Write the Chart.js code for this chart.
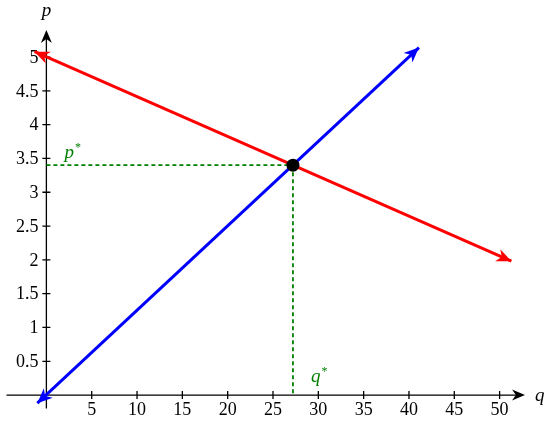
<!DOCTYPE html>
<html>
<head>
<meta charset="utf-8">
<script src="https://cdn.jsdelivr.net/npm/chart.js@4/dist/chart.umd.min.js"></script>
<style>
  html, body { margin: 0; padding: 0; background: #fff; }
  #wrap { width: 550px; height: 421px; position: relative; }
</style>
</head>
<body>
<div id="wrap"><canvas id="chart"></canvas></div>
<script>
// supply (blue) and demand (red) lines
const SUPPLY_Q = [-1.0, 41.1];
const SUPPLY_P = [-0.12, 5.14];
const DEMAND_Q = [-1.3, 51.3];
const DEMAND_P = [5.08, 1.98];

// equilibrium point
const EQ_Q = 27.2;
const EQ_P = 3.4;

const X_TICKS = [5, 10, 15, 20, 25, 30, 35, 40, 45, 50];
const Y_TICKS = [0.5, 1, 1.5, 2, 2.5, 3, 3.5, 4, 4.5, 5];

const X_RANGE = [-4.4, 52.8];
const Y_RANGE = [-0.2, 5.4];

const GREEN = "#008000";
const FONT = "Liberation Serif";

function font(style, size) {
  return `${style} ${size}px "${FONT}"`;
}

function pts(xs, ys) {
  return xs.map((x, i) => ({ x, y: ys[i] }));
}

// LaTeX-ish stealth arrow head with tip at (x, y), pointing along angle
function arrowHead(ctx, x, y, angle, color, len, half) {
  ctx.save();
  ctx.translate(x, y);
  ctx.rotate(angle);
  ctx.fillStyle = color;
  ctx.beginPath();
  ctx.moveTo(0, 0);
  ctx.lineTo(-len, -half);
  ctx.lineTo(-len * 0.7, 0);
  ctx.lineTo(-len, half);
  ctx.closePath();
  ctx.fill();
  ctx.restore();
}

function lineArrows(chart, xs, ys, color) {
  const sx = chart.scales.x, sy = chart.scales.y;
  const a = { x: sx.getPixelForValue(xs[0]), y: sy.getPixelForValue(ys[0]) };
  const b = { x: sx.getPixelForValue(xs[1]), y: sy.getPixelForValue(ys[1]) };
  const ang = Math.atan2(b.y - a.y, b.x - a.x);
  arrowHead(chart.ctx, b.x, b.y, ang, color, 15, 6.5);
  arrowHead(chart.ctx, a.x, a.y, ang + Math.PI, color, 15, 6.5);
}

const axesPlugin = {
  id: "axes",
  beforeDatasetsDraw(chart) {
    const ctx = chart.ctx;
    const sx = chart.scales.x, sy = chart.scales.y;
    const x0 = sx.getPixelForValue(0), y0 = sy.getPixelForValue(0);
    const left = sx.getPixelForValue(X_RANGE[0]), right = sx.getPixelForValue(X_RANGE[1]);
    const top = sy.getPixelForValue(Y_RANGE[1]), bottom = sy.getPixelForValue(Y_RANGE[0]);

    ctx.save();
    ctx.strokeStyle = "#000";
    ctx.lineWidth = 1.3;
    ctx.beginPath();
    ctx.moveTo(left, y0);
    ctx.lineTo(right - 8, y0);
    ctx.moveTo(x0, bottom);
    ctx.lineTo(x0, top + 8);
    ctx.stroke();
    arrowHead(ctx, right, y0, 0, "#000", 13, 5.5);
    arrowHead(ctx, x0, top, -Math.PI / 2, "#000", 13, 5.5);

    ctx.beginPath();
    X_TICKS.forEach((v) => {
      const px = sx.getPixelForValue(v);
      ctx.moveTo(px, y0 - 4);
      ctx.lineTo(px, y0 + 4);
    });
    Y_TICKS.forEach((v) => {
      const py = sy.getPixelForValue(v);
      ctx.moveTo(x0 - 4, py);
      ctx.lineTo(x0 + 4, py);
    });
    ctx.stroke();

    ctx.font = font("normal", 18);
    ctx.fillStyle = "#000";
    ctx.textAlign = "center";
    ctx.textBaseline = "top";
    X_TICKS.forEach((v) => ctx.fillText(String(v), sx.getPixelForValue(v), y0 + 6));
    ctx.textAlign = "right";
    ctx.textBaseline = "middle";
    Y_TICKS.forEach((v) => ctx.fillText(String(v), x0 - 8, sy.getPixelForValue(v) + 1));

    ctx.font = font("italic", 19);
    ctx.textAlign = "center";
    ctx.textBaseline = "alphabetic";
    ctx.fillText("p", x0, top - 14);
    ctx.textAlign = "left";
    ctx.textBaseline = "middle";
    ctx.fillText("q", right + 10, y0 + 1);
    ctx.restore();
  },
  afterDatasetsDraw(chart) {
    const ctx = chart.ctx;
    const sx = chart.scales.x, sy = chart.scales.y;
    lineArrows(chart, SUPPLY_Q, SUPPLY_P, "#0000ff");
    lineArrows(chart, DEMAND_Q, DEMAND_P, "#ff0000");

    ctx.save();
    ctx.fillStyle = GREEN;
    const star = (label, x, y) => {
      ctx.font = font("italic", 19);
      ctx.fillText(label, x, y);
      const w = ctx.measureText(label).width;
      ctx.font = font("normal", 12);
      ctx.fillText("*", x + w + 1, y - 7);
    };
    ctx.textBaseline = "alphabetic";
    star("p", sx.getPixelForValue(2), sy.getPixelForValue(3.4) - 7);
    star("q", sx.getPixelForValue(29.2), sy.getPixelForValue(0.2));
    ctx.restore();
  },
};

function draw() {
  // dataset 0 is painted last, so the dot goes first
  new Chart(document.getElementById("chart"), {
    type: "scatter",
    data: {
      datasets: [
        {
          data: [{ x: EQ_Q, y: EQ_P }],
          pointRadius: 6.5, pointBackgroundColor: "#000", pointBorderColor: "#000", borderWidth: 0,
        },
        {
          data: pts(DEMAND_Q, DEMAND_P),
          showLine: true, borderColor: "#ff0000", borderWidth: 3, pointRadius: 0,
        },
        {
          data: pts(SUPPLY_Q, SUPPLY_P),
          showLine: true, borderColor: "#0000ff", borderWidth: 3, pointRadius: 0,
        },
        {
          data: [{ x: 0, y: EQ_P }, { x: EQ_Q, y: EQ_P }],
          showLine: true, borderColor: GREEN, borderWidth: 1.8, borderDash: [4, 3], pointRadius: 0,
        },
        {
          data: [{ x: EQ_Q, y: EQ_P }, { x: EQ_Q, y: 0 }],
          showLine: true, borderColor: GREEN, borderWidth: 1.8, borderDash: [4, 3], pointRadius: 0,
        },
      ],
    },
    options: {
      responsive: true,
      maintainAspectRatio: false,
      animation: false,
      clip: false,
      layout: { padding: { left: 5, right: 25, top: 30, bottom: 12.4 } },
      plugins: { legend: { display: false }, tooltip: { enabled: false } },
      scales: {
        x: { type: "linear", display: false, min: X_RANGE[0], max: X_RANGE[1] },
        y: { type: "linear", display: false, min: Y_RANGE[0], max: Y_RANGE[1] },
      },
    },
    plugins: [axesPlugin],
  });
}

Promise.all([
  document.fonts.load(font("normal", 18)),
  document.fonts.load(font("italic", 19)),
]).then(draw, draw);
</script>
</body>
</html>
